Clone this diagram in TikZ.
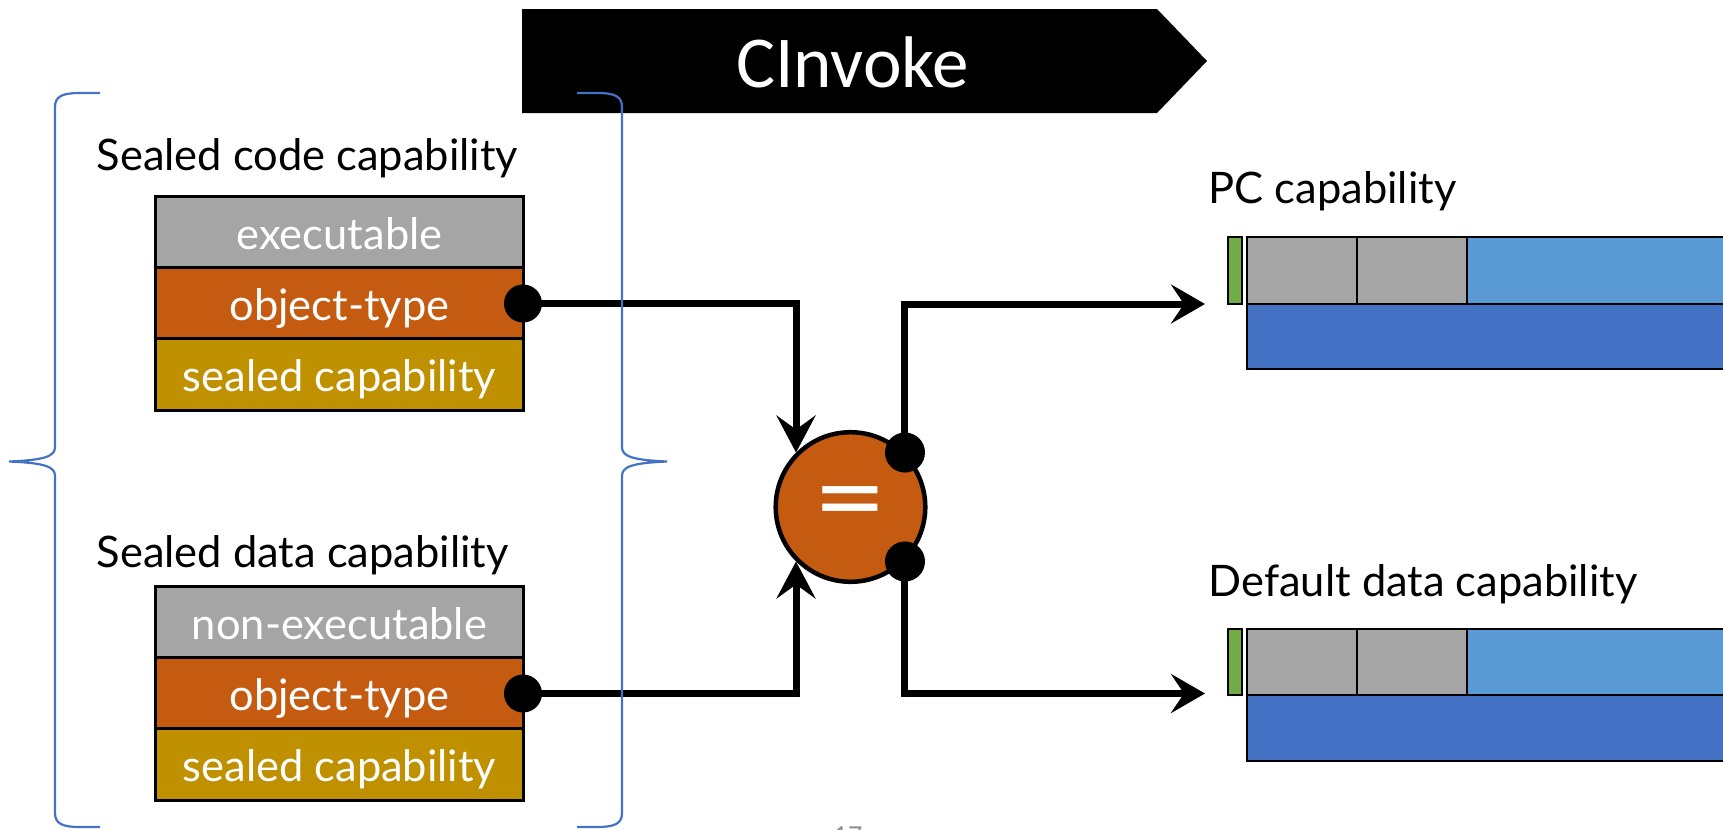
\documentclass[tikz,border=0pt]{standalone}
\usepackage{fontspec}
\setmainfont{Lato}
\newfontfamily\bannerfamily{Carlito}
\newfontfamily\symfamily{DejaVu Sans}
\usetikzlibrary{arrows.meta}
\definecolor{cgray}{HTML}{A5A5A5}
\definecolor{corange}{HTML}{C55A11}
\definecolor{cgold}{HTML}{BF9000}
\definecolor{cgreen}{HTML}{70AD47}
\definecolor{clblue}{HTML}{5B9BD5}
\definecolor{cdblue}{HTML}{4472C4}
\definecolor{cbrace}{HTML}{4472C4}
\definecolor{cpage}{HTML}{8C8C8C}
\newcommand{\mysize}{\fontsize{12.35}{15}\selectfont}
\begin{document}
\begin{tikzpicture}[x=0.01cm,y=-0.01cm,
  cell/.style={draw=black, line width=0.03cm, minimum width=3.67cm, minimum height=0.71cm,
    inner sep=0pt, text=white, font=\mysize, text height=0.46cm, text depth=0.12cm},
  heading/.style={anchor=base west, inner sep=0pt, font=\mysize},
  dotnode/.style={circle, fill=black, inner sep=0pt, minimum size=0.38cm},
  rdotnode/.style={circle, fill=black, inner sep=0pt, minimum size=0.40cm},
  conn/.style={line width=0.07cm, line join=miter},
  intip/.style={-{Stealth[length=0.37cm,width=0.39cm,inset=0.14cm]}},
  outtip/.style={-{Stealth[length=0.34cm,width=0.39cm,inset=0.13cm]}},
  capbox/.style={draw=black, line width=0.028cm},
  bracestyle/.style={draw=cbrace, line width=0.022cm},
]
\useasboundingbox (0,0) rectangle (1723,830);
\clip (0,0) rectangle (1723,830);

% banner
\fill[black] (522,9) -- (1157,9) -- (1207,61) -- (1157,113) -- (522,113) -- cycle;
\node[anchor=base, inner sep=0pt, text=white, font={\fontsize{20.8}{24}\bannerfamily}] (title) at (852.5,87) {CInvoke};

% headings
\node[heading] (h1) at (96,170) {Sealed code capability};
\node[heading] (h2) at (96,567) {Sealed data capability};
\node[heading] (h3) at (1208,203) {PC capability};
\node[heading] (h4) at (1208,596) {Default data capability};

% left boxes
\node[cell, fill=cgray]   (a1) at (339.5,232.5) {executable};
\node[cell, fill=corange] (a2) at (339.5,303.5) {object-type};
\node[cell, fill=cgold]   (a3) at (339.5,374.5) {sealed capability};
\node[cell, fill=cgray]   (b1) at (339.5,622.5) {non-executable};
\node[cell, fill=corange] (b2) at (339.5,693.5) {object-type};
\node[cell, fill=cgold]   (b3) at (339.5,764.5) {sealed capability};

% comparator
\node[circle, draw=black, fill=corange, line width=0.045cm, minimum size=1.495cm, inner sep=0pt,
  text=white, font={\fontsize{25}{30}\symfamily}] (eq) at (850.5,507) {=};

% dots
\node[dotnode] (d1) at (523,303.5) {};
\node[dotnode] (d2) at (523,693.5) {};
\node[rdotnode] (r1) at (eq.45) {};
\node[rdotnode] (r2) at (eq.-45) {};

% connectors
\draw[conn, intip] (d1.center) -| (eq.135);
\draw[conn, intip] (d2.center) -| (eq.225);
\coordinate (t1) at (1205,304);
\coordinate (t2) at (1205,693.5);
\draw[conn, outtip] (r1.center) |- (t1);
\draw[conn, outtip] (r2.center) |- (t2);

% PC capability
\draw[capbox, fill=cgreen] (1228,237) rectangle (1242,304);
\draw[capbox, fill=cgray] (1247,237) rectangle (1357,304);
\draw[capbox, fill=cgray] (1357,237) rectangle (1467,304);
\draw[capbox, fill=clblue] (1467,237) rectangle (1740,304);
\draw[capbox, fill=cdblue] (1247,304) rectangle (1740,369);

% Default data capability
\draw[capbox, fill=cgreen] (1228,629) rectangle (1242,695);
\draw[capbox, fill=cgray] (1247,629) rectangle (1357,695);
\draw[capbox, fill=cgray] (1357,629) rectangle (1467,695);
\draw[capbox, fill=clblue] (1467,629) rectangle (1740,695);
\draw[capbox, fill=cdblue] (1247,695) rectangle (1740,761);

% braces
\draw[bracestyle] (100,93) -- (80,93) .. controls (63,93) and (55,96) .. (55,107)
  -- (55,447) .. controls (55,456) and (46,460) .. (9,461.5)
  .. controls (46,463) and (55,467) .. (55,476)
  -- (55,813) .. controls (55,824) and (63,827) .. (80,827) -- (100,827);
\draw[bracestyle] (577,93) -- (597,93) .. controls (614,93) and (622,96) .. (622,107)
  -- (622,447) .. controls (622,456) and (631,460) .. (667,461.5)
  .. controls (631,463) and (622,467) .. (622,476)
  -- (622,813) .. controls (622,824) and (614,827) .. (597,827) -- (577,827);

% page number
\node[anchor=north, inner sep=0pt, text=cpage, font={\fontsize{7}{8}\selectfont}] (pg) at (848,826) {17};
\end{tikzpicture}
\end{document}
